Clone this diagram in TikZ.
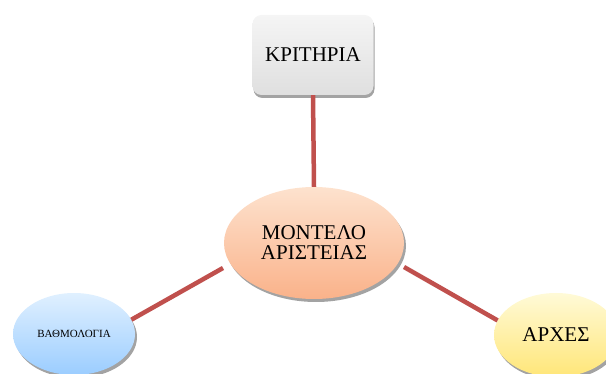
\documentclass[tikz,border=0pt]{standalone}
\usepackage{fontspec}
\setmainfont{Liberation Serif}
\usetikzlibrary{shapes.geometric,shadows}
\definecolor{linkred}{HTML}{C0504D}
\tikzset{
  x=1pt, y=-1pt,
  bubble/.style={ellipse, draw=none, inner sep=0pt, align=center,
    drop shadow={shadow xshift=2pt, shadow yshift=-3pt, fill=black!45, opacity=0.8}},
  link/.style={draw=linkred, line width=4.5pt},
  txt/.style={font=\fontsize{21}{23}\selectfont}
}
\begin{document}
\begin{tikzpicture}
\useasboundingbox (0,0) rectangle (606,374);
% criteria box
\node[rectangle, rounded corners=9pt, minimum width=121pt, minimum height=80pt,
  top color=gray!8, bottom color=gray!25, txt,
  drop shadow={shadow xshift=1pt, shadow yshift=-3pt, fill=black!45, opacity=0.8}]
  (crit) at (313,55) {ΚΡΙΤΗΡΙΑ};
% central model
\node[bubble, minimum width=180pt, minimum height=112pt,
  top color={rgb,255:red,253;green,226;blue,206}, bottom color={rgb,255:red,250;green,178;blue,138}, txt]
  (model) at (314,243) {ΜΟΝΤΕΛΟ\\[-3pt]ΑΡΙΣΤΕΙΑΣ};
% grading
\node[bubble, minimum width=122pt, minimum height=82pt,
  top color={rgb,255:red,224;green,240;blue,255}, bottom color={rgb,255:red,155;green,205;blue,255},
  font=\fontsize{11}{12}\selectfont]
  (grade) at (74,334) {ΒΑΘΜΟΛΟΓΙΑ};
% principles
\node[bubble, minimum width=124pt, minimum height=84pt,
  top color={rgb,255:red,255;green,250;blue,215}, bottom color={rgb,255:red,255;green,230;blue,120}, txt]
  (princ) at (556,335) {ΑΡΧΕΣ};
% connectors
\draw[link] (crit.south) -- (model.north);
\draw[link] (model) ++(-91,25) coordinate (ml) (ml) -- (grade.14);
\draw[link] (model) ++(90,24) coordinate (mr) (mr) -- (princ.166);
\end{tikzpicture}
\end{document}
